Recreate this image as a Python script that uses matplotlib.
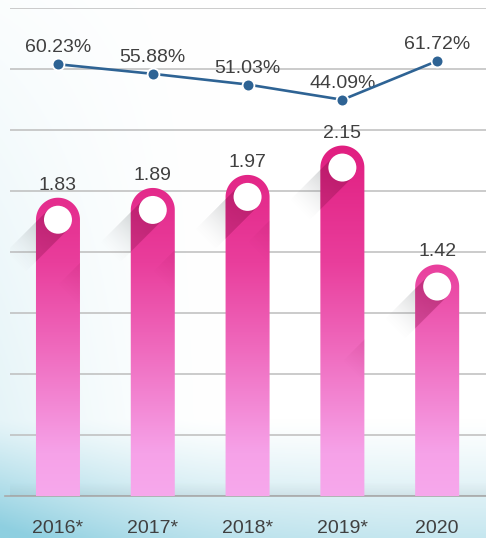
import numpy as np
import matplotlib
matplotlib.use("Agg")
import matplotlib.pyplot as plt
from matplotlib.path import Path
from matplotlib.patches import PathPatch
from matplotlib.colors import LinearSegmentedColormap, to_rgb

# ---------------------------------------------------------------------------
# Data
# ---------------------------------------------------------------------------
years = ["2016*", "2017*", "2018*", "2019*", "2020"]
values = [1.83, 1.89, 1.97, 2.15, 1.42]
ratios = [60.23, 55.88, 51.03, 44.09, 61.72]

W, H, DPI = 486, 538, 100
FONT = dict(family=["Liberation Sans", "DejaVu Sans"], weight="normal")
TEXT_COLOR = "#404040"
LINE_COLOR = "#2E6394"

fig = plt.figure(figsize=(W / DPI, H / DPI), dpi=DPI)

# ── background wash ──
bg = fig.add_axes([0, 0, 1, 1], zorder=-5)
yy, xx = np.mgrid[0:1:300j, 0:1:300j]
low = np.clip((yy - 0.78) / 0.22, 0, 1) ** 1.2
left = 0.24 * np.clip(1 - xx / 0.45, 0, 1) ** 1.5 * np.clip(0.15 + yy, 0, 1)
tint = left + low * (0.5 + 0.35 * (1 - xx) ** 2)
tint = np.clip(tint, 0, 1)[..., None]
blue = np.array(to_rgb("#8ECFE0"))
bg.imshow(1 - tint * (1 - blue), extent=(0, 1, 0, 1), aspect="auto", origin="upper")
bg.axis("off")

# ── main axes ──
AX_W, AX_H = 476, 488
ax = fig.add_axes([10 / W, 42 / H, AX_W / W, AX_H / H])
ax.patch.set_alpha(0)
XL = (-0.506, 4.515)
YMAX = 2.994
sx = AX_W / (XL[1] - XL[0])   # px per x unit
sy = AX_H / YMAX              # px per y unit

ax.set_yticks(np.linspace(0, YMAX, 9)[1:])
ax.yaxis.grid(True, color="#BDBDBD", lw=1.1)
ax.set_axisbelow(True)
ax.axhline(0, xmin=-5 / AX_W, xmax=1, color="#A9A9A9", lw=1.2, clip_on=False, zorder=1)
for s in ax.spines.values():
    s.set_visible(False)
ax.tick_params(axis="y", length=0, labelleft=False)
ax.set_xticks(range(len(years)))
ax.set_xticklabels(years, fontsize=14, color=TEXT_COLOR, **FONT)
ax.tick_params(axis="x", length=0, pad=17.5)

# faint floor shadow just above the baseline
floor_rgba = np.zeros((40, 1, 4))
floor_rgba[..., :3] = 0.45
floor_rgba[..., 3] = np.linspace(0.10, 0, 40)[:, None]
ax.imshow(floor_rgba, extent=(XL[0], XL[1], 0, 14 / sy), aspect="auto",
          origin="lower", zorder=1)

grad_cmap = LinearSegmentedColormap.from_list(
    "bar", [(0.0, "#F7A8EC"), (0.12, "#F6A2E8"), (0.42, "#EF68BC"),
            (0.65, "#E93E9C"), (1.0, "#E01C7E")])
grad = grad_cmap(np.linspace(0, 1, 256))[:, None, :]

bar_w = 44 / sx
cap_ry = 22 / sy
r_dot = 14
L_out = 62

# pixel grid of the axes (y up) for the long shadows
PY, PX = np.mgrid[0:AX_H, 0:AX_W] + 0.5
d = np.array([-1.0, -1.0]) / np.sqrt(2)
n = np.array([-1.0, 1.0]) / np.sqrt(2)
outer = np.zeros((AX_H, AX_W, 4))
outer[..., :3] = to_rgb("#6E7478")
inner_alpha = np.zeros((AX_H, AX_W))

bars = []
for i, v in enumerate(values):
    x0, x1 = i - bar_w / 2, i + bar_w / 2
    cy = v - cap_ry
    t = np.linspace(np.pi, 0, 60)
    arc = np.column_stack([i + bar_w / 2 * np.cos(t), cy + cap_ry * np.sin(t)])
    verts = np.vstack([[x0, 0], [x0, cy], arc, [x1, cy], [x1, 0], [x0, 0]])
    bar = PathPatch(Path(verts, closed=True), facecolor="none", edgecolor="none")
    ax.add_patch(bar)
    bars.append(bar)
    im = ax.imshow(grad, extent=(XL[0], XL[1], 0, 2.2), aspect="auto",
                   origin="lower", zorder=2)
    im.set_clip_path(bar)

    cpx, cpy = (i - XL[0]) * sx, cy * sy
    rx, ry = PX - cpx, PY - cpy
    along = rx * d[0] + ry * d[1]
    perp = np.abs(rx * n[0] + ry * n[1])
    edge = np.clip(r_dot + 0.5 - perp, 0, 1)
    start = np.clip(along + 0.5, 0, 1)
    a_out = 0.45 * np.clip(1 - along / L_out, 0, 1) ** 1.5 * edge * start
    outer[..., 3] = np.maximum(outer[..., 3], a_out)
    a_in = 0.42 * np.clip(1 - along / 120, 0, 1) * edge * start
    inner_alpha = np.maximum(inner_alpha, a_in)

    ax.scatter([i], [cy], s=(2 * r_dot * 72 / DPI) ** 2, color="white",
               edgecolors="none", zorder=4)
    ax.annotate(f"{v:.2f}", (i, v), xytext=(0, 5.8), textcoords="offset points",
                ha="center", va="baseline", fontsize=14, color=TEXT_COLOR, zorder=5,
                **FONT)

ax.imshow(outer, extent=(XL[0], XL[1], 0, YMAX), aspect="auto", origin="lower",
          zorder=1.5)
inner = np.zeros((AX_H, AX_W, 4))
inner[..., :3] = to_rgb("#861048")
inner[..., 3] = inner_alpha
for bar in bars:
    im = ax.imshow(inner, extent=(XL[0], XL[1], 0, YMAX), aspect="auto",
                   origin="lower", zorder=2.5)
    im.set_clip_path(bar)

ax.set_xlim(*XL)
ax.set_ylim(0, YMAX)

# ── ratio line ──
ax2 = ax.twinx()
ax2.set_ylim(-136.0, 85.8)
ax2.axis("off")
xs = np.arange(len(ratios))
ax2.plot(xs, ratios, color=LINE_COLOR, lw=1.9, zorder=6,
         marker="o", markersize=8.5, markerfacecolor=LINE_COLOR,
         markeredgecolor="white", markeredgewidth=1.3)
for x, r in zip(xs, ratios):
    ax2.annotate(f"{r:.2f}%", (x, r), xytext=(0, 8.6), textcoords="offset points",
                 ha="center", va="baseline", fontsize=14, color=TEXT_COLOR, **FONT)

fig.savefig("out.png", dpi=DPI)
